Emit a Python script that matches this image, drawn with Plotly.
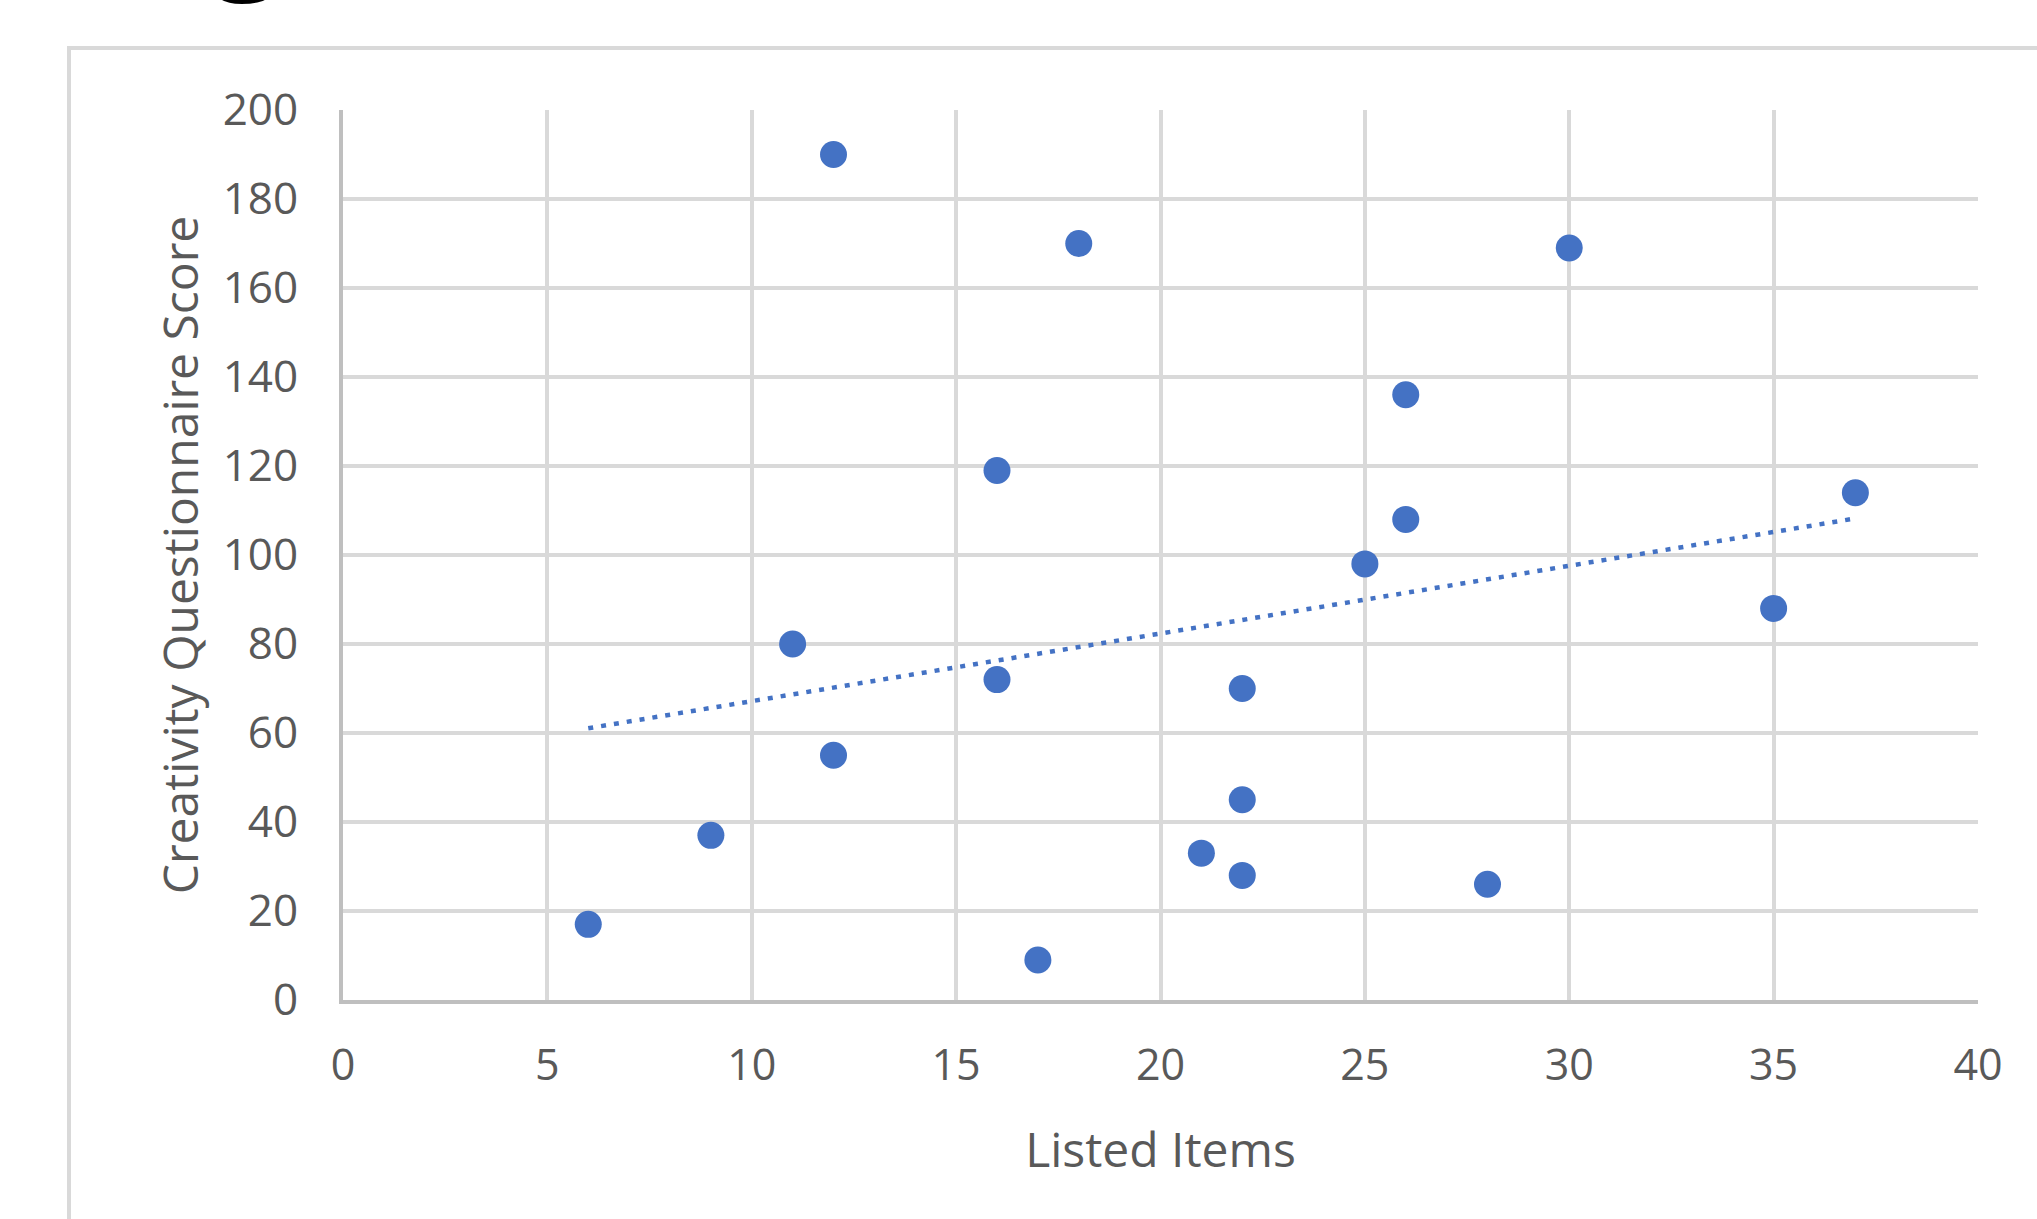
import numpy as np
import plotly.graph_objects as go

# Listed items vs. creativity questionnaire score
listed_items = [6, 9, 11, 12, 12, 16, 16, 17, 18, 21, 22, 22, 22, 25, 26, 26, 28, 30, 35, 37]
creativity_score = [17, 37, 80, 190, 55, 119, 72, 9, 170, 33, 70, 45, 28, 98, 136, 108, 26, 169, 88, 114]

x_ticks = [0, 5, 10, 15, 20, 25, 30, 35, 40]
y_ticks = [0, 20, 40, 60, 80, 100, 120, 140, 160, 180, 200]

x_title = "Listed Items"
y_title = "Creativity Questionnaire Score"

# linear least-squares trendline over the data's x extent
slope, intercept = np.polyfit(listed_items, creativity_score, 1)
trend_x = [min(listed_items), max(listed_items)]
trend_y = [slope * v + intercept for v in trend_x]

W, H = 2037, 1219
L, R, T, B = 343, 2037 - 1978, 110, H - 1000
pw, ph = W - L - R, H - T - B


def px(xp):
    return (xp - L) / pw


def py(yp):
    return (H - B - yp) / ph


BLUE = "#4472C4"
GRID = "#D9D9D9"
AXIS = "#BFBFBF"
TEXT = "#595959"
FONT = "Open Sans, Segoe UI, sans-serif"

fig = go.Figure()
fig.add_trace(go.Scatter(
    x=trend_x, y=trend_y, mode="lines",
    line=dict(color=BLUE, width=4.5, dash="5px,8px"),
    hoverinfo="skip", showlegend=False,
))
fig.add_trace(go.Scatter(
    x=listed_items, y=creativity_score, mode="markers",
    marker=dict(color=BLUE, size=27, line=dict(width=0)),
    showlegend=False,
))

fig.update_layout(
    width=W, height=H,
    margin=dict(l=L, r=R, t=T, b=B, autoexpand=False),
    paper_bgcolor="white", plot_bgcolor="white",
    font=dict(family=FONT, color=TEXT),
    xaxis=dict(
        range=[0, 40], tickvals=x_ticks, showgrid=True, gridcolor=GRID, gridwidth=4,
        showline=True, linecolor=AXIS, linewidth=4, zeroline=False,
        ticks="", tickfont=dict(size=43, color=TEXT), ticklabelstandoff=24,
        title=dict(text=x_title, font=dict(size=48, color=TEXT), standoff=43),
        automargin=False, fixedrange=True,
    ),
    yaxis=dict(
        range=[0, 200], tickvals=y_ticks, showgrid=True, gridcolor=GRID, gridwidth=4,
        showline=True, linecolor=AXIS, linewidth=4, zeroline=False,
        ticks="", tickfont=dict(size=44, color=TEXT), ticklabelstandoff=32,
        title=dict(text=y_title, font=dict(size=48, color=TEXT), standoff=10),
        automargin=False, fixedrange=True,
    ),
    shapes=[dict(
        type="rect", xref="paper", yref="paper",
        x0=px(69), x1=px(W + 40), y0=py(48), y1=py(H + 40),
        line=dict(color=GRID, width=4), fillcolor="rgba(0,0,0,0)", layer="below",
    )],
    annotations=[dict(
        text="g", xref="paper", yref="paper", x=px(247), y=py(12),
        xanchor="center", yanchor="bottom", showarrow=False,
        font=dict(family="Open Sans", size=120, color="black", weight="bold"),
    )],
)

fig.write_html("out.html")
